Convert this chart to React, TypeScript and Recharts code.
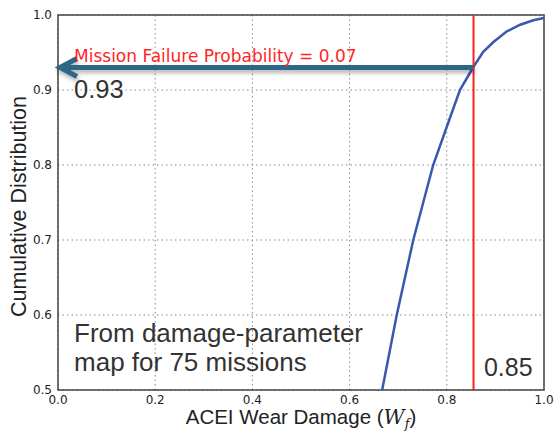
import React from 'react';
import {
  LineChart, Line, XAxis, YAxis, CartesianGrid, ReferenceLine, ReferenceArea, ReferenceDot, Label,
} from 'recharts';

// CDF of ACEI wear damage
const damage = [0.667, 0.697, 0.731, 0.772, 0.800, 0.827, 0.855, 0.875, 0.896, 0.923, 0.951, 0.978, 1.0];
const cdf = [0.50, 0.60, 0.70, 0.80, 0.851, 0.90, 0.931, 0.951, 0.964, 0.978, 0.987, 0.993, 0.996];

const xTicks = [0, 0.2, 0.4, 0.6, 0.8, 1.0];
const yTicks = [0.5, 0.6, 0.7, 0.8, 0.9, 1.0];

const criticalDamage = 0.855;
const criticalCdf = 0.93;

const data = damage.map((d, i) => ({ damage: d, cdf: cdf[i] }));

const SANS = '"Liberation Sans", Arial, sans-serif';
const DEJAVU = '"DejaVu Sans", sans-serif';
const ARROW = '#2E6687';

function textShape(label: string, opts: { size: number; color: string; font?: string }) {
  return (p: any) => (
    <text x={p.cx} y={p.cy} fontSize={opts.size} fill={opts.color} fontFamily={opts.font ?? SANS} textAnchor="start">
      {label}
    </text>
  );
}

function arrowShape(p: any) {
  const { x1, y1, x2, y2 } = p;
  const left = Math.min(x1, x2);
  const right = Math.max(x1, x2);
  return (
    <g filter="url(#arrowShadow)">
      <line x1={left + 3} y1={y1} x2={right} y2={y2} stroke={ARROW} strokeWidth={5} />
      <polyline
        points={`${left + 19},${y1 - 9} ${left + 2},${y1} ${left + 19},${y1 + 9}`}
        fill="none" stroke={ARROW} strokeWidth={5} strokeLinejoin="miter"
      />
    </g>
  );
}

export default function App() {
  return (
    <div style={{ width: 554, height: 436 }}>
      <style>{`body{margin:0}`}</style>
      <LineChart width={554} height={436} data={data} margin={{ top: 15, right: 10, left: 0, bottom: 0 }}>
        <defs>
          <filter id="arrowShadow" x="-10%" y="-200%" width="120%" height="500%">
            <feDropShadow dx={1} dy={3} stdDeviation={2} floodColor="#000" floodOpacity={0.3} />
          </filter>
        </defs>
        <CartesianGrid stroke="#8a8a8a" strokeDasharray="1.5 3" />
        <XAxis
          dataKey="damage" type="number" domain={[0, 1]} ticks={xTicks} allowDataOverflow
          tickFormatter={(v: number) => v.toFixed(1)} axisLine={false} tickLine={false}
          tickSize={4} tickMargin={1} height={46}
          tick={{ fontSize: 12, fill: '#222', fontFamily: DEJAVU }}
        >
          <Label
            content={(p: any) => {
              const vb = p.viewBox;
              return (
                <text x={vb.x + vb.width / 2} y={vb.y + 34} textAnchor="middle" fontSize={20.5} fill="#222" fontFamily={SANS}>
                  ACEI Wear Damage (<tspan fontStyle="italic" fontFamily='"DejaVu Serif", serif'>W</tspan>
                  <tspan fontStyle="italic" fontSize={13} dy={4} fontFamily='"DejaVu Serif", serif'>f</tspan>
                  <tspan dy={-4}>)</tspan>
                </text>
              );
            }}
          />
        </XAxis>
        <YAxis
          type="number" domain={[0.5, 1]} ticks={yTicks} allowDataOverflow
          tickFormatter={(v: number) => v.toFixed(1)} axisLine={false} tickLine={false}
          tickSize={4} tickMargin={2} width={58}
          tick={{ fontSize: 12, fill: '#222', fontFamily: DEJAVU }}
        >
          <Label
            content={(p: any) => {
              const vb = p.viewBox;
              const cx = 26;
              const cy = vb.y + vb.height / 2 + 4;
              return (
                <text x={cx} y={cy} transform={`rotate(-90 ${cx} ${cy})`} textAnchor="middle" fontSize={21.5} fill="#222" fontFamily={SANS}>
                  Cumulative Distribution
                </text>
              );
            }}
          />
        </YAxis>
        <ReferenceArea x1={0} x2={1} y1={0.5} y2={1} fill="none" stroke="#444" strokeWidth={1.5} />
        <Line dataKey="cdf" type="linear" stroke="#3A58B0" strokeWidth={2.5} dot={false} isAnimationActive={false} />
        <ReferenceLine x={criticalDamage} stroke="#FF1F1F" strokeWidth={2} />
        <ReferenceLine
          segment={[{ x: 0, y: criticalCdf }, { x: criticalDamage, y: criticalCdf }]}
          shape={arrowShape}
        />
        <ReferenceDot x={0.033} y={0.9373} r={0} shape={textShape('Mission Failure Probability = 0.07', { size: 17, color: '#FF2626', font: DEJAVU })} />
        <ReferenceDot x={0.033} y={0.889} r={0} shape={textShape('0.93', { size: 25.5, color: '#333' })} />
        <ReferenceDot x={0.033} y={0.564} r={0} shape={textShape('From damage-parameter', { size: 26, color: '#333' })} />
        <ReferenceDot x={0.033} y={0.5253} r={0} shape={textShape('map for 75 missions', { size: 26, color: '#333' })} />
        <ReferenceDot x={0.8765} y={0.5187} r={0} shape={textShape('0.85', { size: 25, color: '#333' })} />
      </LineChart>
    </div>
  );
}
